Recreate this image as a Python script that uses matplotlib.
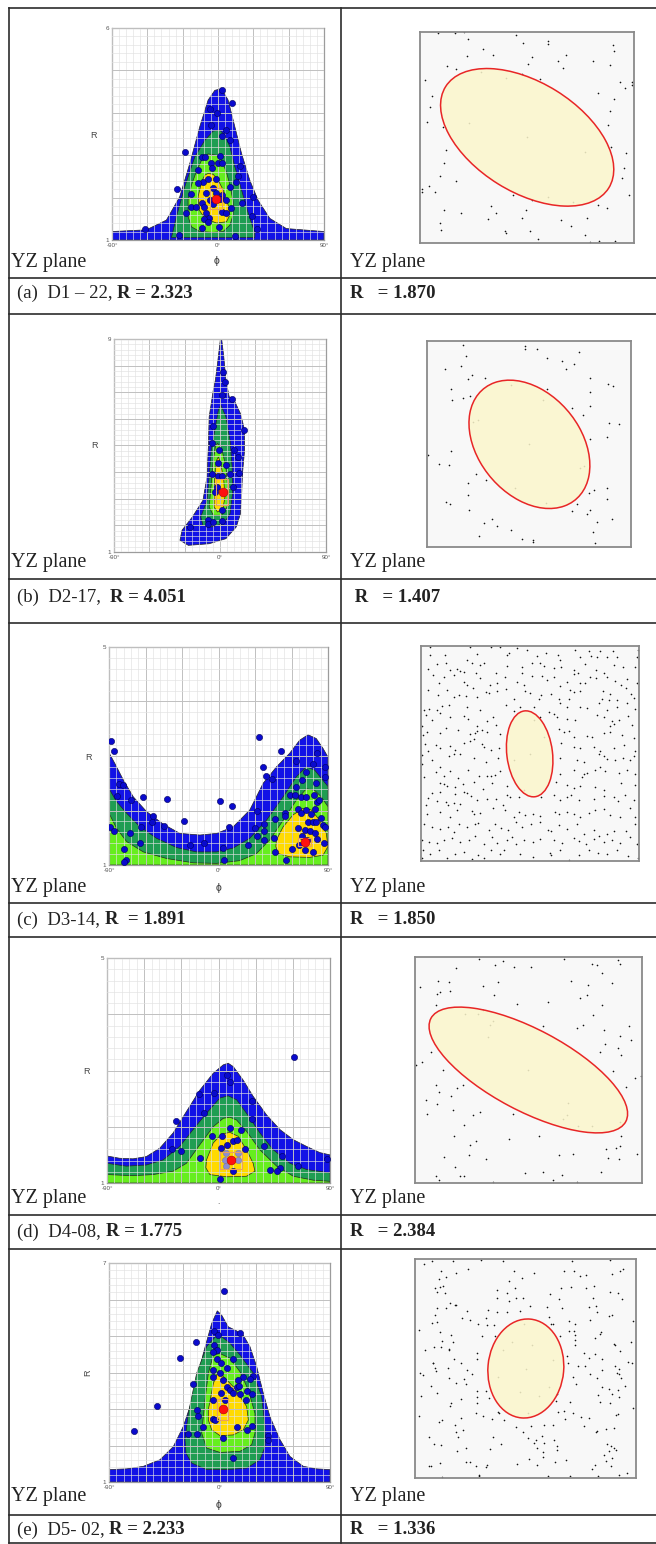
import numpy as np
import matplotlib
matplotlib.use("Agg")
import matplotlib.pyplot as plt
from matplotlib.patches import Ellipse, Rectangle
from matplotlib.lines import Line2D
from matplotlib.text import Annotation

plt.rcParams['font.family'] = ['Liberation Sans', 'DejaVu Sans']

# ---------------- Rf / phi panels (phi in degrees, R) ----------------
# contour outlines, outermost first
a_blue = [(-90, 1), (-90, 1.2), (-60.8, 1.24), (-43.8, 1.47), (-32.5, 2.02), (-24, 2.8), (-15.5, 3.67),
          (-8.4, 4.3), (-2.7, 4.53), (3, 4.57), (8.6, 4.3), (14.3, 3.67), (20, 3.04), (27, 2.41),
          (34, 1.94), (44, 1.51), (58, 1.27), (90, 1.2), (90, 1)]
a_green = [(-39.5, 1.06), (-35.3, 1.55), (-28.2, 2.26), (-19.7, 2.96), (-11.2, 3.35), (-4.1, 3.57),
           (1.6, 3.59), (5.8, 3.47), (10.1, 3.2), (14.3, 2.73), (20, 2.18), (25.7, 1.63), (31.3, 1.16),
           (31.3, 1.06)]
a_lgreen = [(-8.4, 3.03), (-1.3, 3.0), (3, 2.88), (7.2, 2.6), (10.1, 2.3), (12.9, 1.9), (12.9, 1.6),
            (10.1, 1.35), (4.4, 1.2), (-4.1, 1.18), (-15.5, 1.2), (-22.5, 1.31), (-25.4, 1.55),
            (-25.4, 1.95), (-22.5, 2.3), (-18.3, 2.62), (-14, 2.88)]
a_yellow = [(-8.4, 2.57), (-4.1, 2.55), (0.15, 2.41), (4.4, 2.18), (8.7, 1.82), (10.1, 1.59), (7.2, 1.43),
            (-1.3, 1.40), (-11.2, 1.51), (-16, 1.71), (-16.9, 2.02), (-14, 2.37), (-11.2, 2.53)]
a_points = [(3, 4.53), (11.5, 4.24), (-6.4, 4.1), (-0.7, 4.0), (-6.1, 3.71), (7.2, 3.59), (3.3, 3.45),
            (10.1, 3.37), (-28.2, 3.08), (-13.5, 2.96), (-10.9, 2.96), (1.6, 2.98), (0.1, 2.82), (3.8, 2.81),
            (18.6, 2.74), (-6.1, 2.82), (-16.6, 2.66), (-5.5, 2.69), (17.1, 2.51), (-12.6, 2.37), (-8.1, 2.43),
            (-1.3, 2.43), (15.7, 2.37), (-17.4, 2.35), (-34.7, 2.21), (-4.1, 2.23), (10.1, 2.26), (-22.8, 2.08),
            (-10.6, 2.11), (-1.8, 2.1), (3, 2.06), (-6.9, 1.94), (1.6, 1.96), (29.3, 2.02), (-4.1, 1.86),
            (7.2, 1.94), (-13.2, 1.88), (20.5, 1.88), (-22.8, 1.77), (-18.3, 1.78), (10.7, 1.75), (-26.8, 1.63),
            (-9.8, 1.63), (3, 1.67), (28.8, 1.57), (7.2, 1.63), (-7.5, 1.51), (-11.8, 1.49), (-8.4, 1.42),
            (-14, 1.29), (1, 1.31), (32.7, 1.25), (-61.7, 1.27), (-33.3, 1.12), (14.3, 1.09), (-12, 1.77)]
a_mean = (-1.8, 1.96)
a_mean_box = (-6.5, 1.72, 10, 0.5)

b_blue = [(1.4, 9), (3.2, 8.34), (5, 7.46), (7.8, 6.83), (12, 6.7), (17.4, 6.2), (20.9, 5.58), (20.9, 4.83),
          (19.1, 3.95), (18.4, 3.19), (17.4, 2.44), (13.8, 1.94), (5, 1.5), (-9.2, 1.31), (-26.9, 1.25),
          (-34, 1.44), (-32.2, 1.82), (-23.4, 2.32), (-14.5, 2.94), (-11, 3.82), (-9.9, 4.95), (-9.2, 6.08),
          (-5.7, 7.08), (-3.9, 7.46), (-2.1, 8.08), (0.35, 9)]
b_green = [(0.7, 6.52), (5, 6.08), (8.5, 5.2), (10.3, 4.2), (10.6, 3.19), (8.5, 2.44), (3.2, 2.07),
           (-7.4, 1.94), (-14.5, 2.0), (-16.3, 2.32), (-11, 2.94), (-9.2, 3.82), (-7.4, 4.82), (-3.9, 5.7),
           (-1.4, 6.33)]
b_lgreen = [(-2.1, 5.08), (1.4, 4.89), (5, 4.2), (6.7, 3.32), (6, 2.69), (1.4, 2.38), (-5.7, 2.38),
            (-9.2, 2.69), (-7.4, 3.57), (-5.7, 4.45), (-3.9, 4.95)]
b_yellow = [(-1.4, 4.57), (0.7, 4.32), (3.2, 3.7), (4.2, 3.07), (2.5, 2.63), (-2.1, 2.5), (-5, 2.69),
            (-5, 3.45), (-3.9, 4.07), (-2.8, 4.45)]
b_points = [(2.5, 7.77), (4.2, 7.4), (1.4, 6.89), (10.3, 6.73), (20.2, 5.58), (-5.7, 5.73), (-6.7, 5.08),
            (-1.1, 4.82), (12, 4.82), (14.9, 4.57), (-2.1, 4.36), (5.3, 4.26), (-6.4, 3.92), (-2.1, 3.86),
            (1.4, 3.85), (8.5, 3.92), (15.9, 3.95), (-2.8, 3.45), (-3.9, 3.26), (11.3, 3.45), (2.1, 2.59),
            (-10.3, 2.19), (-9.9, 2.07), (-5.7, 2.13), (1.4, 2.17), (-25.2, 1.94)]
b_mean = (2.5, 3.26)
b_mean_box = (-3.2, 2.76, 9.9, 1.0)

c_blue = [(-90, 1), (-90, 3.06), (-85.1, 2.86), (-78.2, 2.56), (-70, 2.25), (-59.1, 1.98), (-45.4, 1.75),
          (-31.7, 1.58), (-15.3, 1.55), (-1.6, 1.58), (12, 1.70), (25.7, 2.01), (36.7, 2.5), (47.6, 2.8),
          (58.5, 3.05), (66.7, 3.29), (73.6, 3.39), (80.4, 3.32), (85.9, 3.14), (90, 2.98), (90, 1)]
c_green = [(-90, 1), (-90, 2.40), (-83.7, 2.16), (-75.5, 1.95), (-64.6, 1.70), (-50.9, 1.49), (-34.5, 1.32),
           (-18.1, 1.24), (-1.6, 1.24), (12, 1.31), (25.7, 1.49), (39.4, 1.82), (53.1, 2.25), (64, 2.62),
           (72.2, 2.8), (79.1, 2.74), (84.5, 2.59), (90, 2.44), (90, 1)]
c_lgreen = [(-90, 1), (-90, 1.95), (-83.7, 1.67), (-75.5, 1.43), (-61.8, 1.24), (-42.7, 1.12), (-20.8, 1.04),
            (-1.6, 1.03), (17.5, 1.08), (31.2, 1.21), (42.1, 1.46), (53.1, 1.82), (64, 2.19), (72.2, 2.40),
            (79.1, 2.37), (84.5, 2.25), (90, 2.07), (90, 1)]
c_yellow = [(47.6, 1.46), (53.1, 1.70), (61.3, 1.92), (69.5, 2.04), (76.3, 2.01), (83.2, 1.82), (88.6, 1.58),
            (90, 1.34), (85.9, 1.18), (75, 1.14), (58.5, 1.15), (49, 1.21), (47.1, 1.34)]
c_points = [(-88.4, 3.27), (-85.9, 3.09), (-81.5, 2.48), (-78.8, 2.47), (-83.7, 2.26), (-72.2, 2.19),
            (-62.4, 2.25), (-42.1, 2.21), (-89.2, 1.70), (-85.9, 1.63), (-72.8, 1.58), (-64.0, 1.69),
            (-54.2, 1.90), (-54.7, 1.78), (-44.9, 1.71), (-64.6, 1.41), (-77.7, 1.30), (-76.0, 1.10),
            (-77.7, 1.05), (-28.2, 1.80), (-23.5, 1.37), (-12.0, 1.41), (1.1, 2.17), (11.2, 2.08), (8.8, 1.69),
            (3.8, 1.31), (4.7, 1.10), (24.6, 1.36), (31.7, 1.99), (33.1, 3.34), (36.9, 2.79), (39.1, 2.64),
            (51.4, 3.09), (43.8, 2.58), (29.8, 1.67), (37.5, 1.75), (37.5, 1.63), (31.5, 1.53), (37.8, 1.46),
            (45.4, 1.49), (46.8, 1.84), (54.5, 1.95), (55.0, 1.90), (58.8, 2.28), (63.5, 2.44), (63.5, 2.91),
            (68.7, 2.56), (72.2, 2.70), (81.3, 3.06), (77.7, 2.86), (87.3, 2.80), (87.3, 2.62), (79.9, 2.51),
            (62.9, 2.28), (68.1, 2.25), (72.2, 2.25), (78.2, 2.29), (80.9, 2.16), (82.6, 2.19), (65.4, 2.03),
            (68.1, 1.96), (72.2, 2.01), (76.3, 1.93), (79.1, 2.02), (73.6, 1.79), (77.7, 1.79), (79.9, 1.79),
            (84.0, 1.87), (85.9, 1.73), (87.3, 1.70), (65.4, 1.68), (70.9, 1.65), (75.0, 1.63), (68.9, 1.53),
            (72.8, 1.46), (79.1, 1.58), (80.9, 1.47), (86.4, 1.40), (65.9, 1.37), (71.4, 1.27), (77.7, 1.23),
            (60.7, 1.29), (46.2, 1.23), (55.3, 1.10)]
c_mean = (70.9, 1.42)
c_mean_box = (65, 1.34, 11, 0.16)

d_blue = [(-90, 1), (-90, 1.48), (-79.8, 1.44), (-69, 1.43), (-58.2, 1.47), (-47.4, 1.62), (-36.6, 1.89),
          (-25.9, 2.27), (-15.1, 2.65), (-4.3, 2.95), (3.8, 3.10), (7.8, 3.13), (11.9, 3.07), (19.9, 2.83),
          (28, 2.54), (38.8, 2.21), (49.6, 1.95), (60.4, 1.77), (71.1, 1.65), (81.9, 1.54), (90, 1.50), (90, 1)]
d_green = [(-90, 1), (-90, 1.35), (-74.4, 1.30), (-58.2, 1.32), (-44.7, 1.41), (-31.3, 1.65), (-20.5, 1.95),
           (-9.7, 2.24), (1.1, 2.51), (7.8, 2.55), (14.6, 2.48), (22.6, 2.24), (33.4, 1.89), (44.2, 1.59),
           (57.7, 1.35), (71.1, 1.24), (90, 1.18), (90, 1)]
d_lgreen = [(-90, 1), (-90, 1.15), (-69, 1.13), (-52.8, 1.15), (-36.6, 1.21), (-25.9, 1.35), (-15.1, 1.68),
            (-4.3, 2.00), (3.8, 2.15), (9.2, 2.17), (14.6, 2.12), (22.6, 1.92), (33.4, 1.59), (46.9, 1.30),
            (60.4, 1.12), (76.5, 1.05), (90, 1.03), (90, 1)]
d_yellow = [(-9.7, 1.41), (-4.3, 1.71), (2.4, 1.87), (9.2, 1.90), (15.9, 1.83), (22.6, 1.59), (28, 1.35),
            (29.4, 1.21), (22.6, 1.12), (6.5, 1.11), (-7, 1.15), (-10.2, 1.27)]
d_points = [(60.9, 3.24), (6.5, 2.92), (9.2, 2.80), (-15.6, 2.58), (-3.5, 2.60), (26.7, 2.45), (-11.9, 2.24),
            (26.9, 2.13), (-34.5, 2.11), (9.2, 1.97), (18.1, 1.95), (-5.4, 1.83), (3.2, 1.84), (11.9, 1.74),
            (14.6, 1.76), (2.4, 1.62), (6.5, 1.68), (21.6, 1.60), (36.6, 1.65), (-37.7, 1.60), (-29.9, 1.57),
            (-15.1, 1.44), (50.9, 1.48), (64.4, 1.30), (49.6, 1.27), (46.9, 1.21), (41.5, 1.24), (11.9, 1.22),
            (1.6, 1.07), (87.8, 1.43)]
d_pale = [(5.9, 1.54), (15.9, 1.54), (5.1, 1.41), (15.9, 1.41), (5.9, 1.31)]
d_mean = (9.7, 1.41)
d_mean_box = (1.1, 1.25, 17.5, 0.31)

e_blue = [(-90, 1), (-90, 1.34), (-75.6, 1.36), (-62, 1.43), (-48.5, 1.61), (-37.6, 1.97), (-29.5, 2.52),
          (-21.3, 3.34), (-13.2, 4.52), (-6.4, 5.34), (-1.8, 5.69), (1.8, 5.57), (7.2, 5.25), (14, 5.14),
          (19.4, 5.02), (24.8, 4.71), (30.3, 4.16), (35.7, 3.43), (41.1, 2.79), (49.3, 2.16), (57.4, 1.70),
          (68.3, 1.43), (79.1, 1.36), (90, 1.34), (90, 1)]
e_green = [(-28.1, 2.16), (-25.4, 2.88), (-18.6, 3.98), (-10.5, 4.71), (-2.3, 5.02), (1.8, 4.98), (8.6, 4.8),
           (16.7, 4.48), (27.6, 3.98), (34.3, 3.34), (37.1, 2.52), (37.1, 1.97), (33, 1.61), (22.1, 1.38),
           (5.8, 1.34), (-10.5, 1.34), (-22.7, 1.52), (-27.3, 1.79)]
e_lgreen = [(-14.5, 2.34), (-11.8, 3.25), (-9.1, 3.98), (-5, 4.48), (0.4, 4.52), (8.6, 4.39), (16.7, 4.02),
            (23.5, 3.52), (28.9, 2.88), (28.9, 2.34), (26.2, 2.02), (16.7, 1.84), (0.4, 1.81), (-10.5, 1.93)]
e_yellow = [(-9.1, 2.98), (-5, 3.70), (-0.9, 4.05), (3.1, 3.89), (11.3, 3.61), (16.7, 3.34), (22.1, 3.07),
            (23.5, 2.70), (19.4, 2.43), (11.3, 2.29), (0.4, 2.27), (-6.4, 2.43), (-9.1, 2.70)]
e_points = [(3.7, 6.23), (-69.6, 2.40), (-50.6, 3.09), (-32.2, 4.39), (-19.1, 4.84), (-4.5, 5.14), (17.0, 5.07),
            (-0.95, 5.02), (-4.5, 4.75), (-2.3, 4.61), (-5.6, 4.57), (-1.8, 4.36), (0.9, 4.27), (11.3, 4.36),
            (5.8, 4.12), (-5, 4.07), (0.4, 3.98), (18.9, 3.89), (27.6, 3.90), (24.8, 3.81), (-21.3, 3.69),
            (-5, 3.89), (3.1, 3.80), (6.4, 3.61), (14.5, 3.61), (16.2, 3.63), (8.6, 3.52), (10.7, 3.43),
            (16.7, 3.41), (22.1, 3.48), (26.2, 3.41), (0.9, 3.43), (-5, 3.25), (4.8, 3.25), (21.3, 3.25),
            (-18.1, 2.98), (-17.5, 2.81), (-5, 2.73), (-3.9, 2.70), (-13.2, 2.50), (-25.7, 2.31), (-18.1, 2.31),
            (14.0, 2.50), (22.1, 2.43), (26.2, 2.54), (2.6, 2.21), (11.3, 1.67), (39.8, 2.27), (39.8, 2.16),
            (15.3, 3.80)]
e_mean = (3.1, 2.99)
e_mean_box = (-2.3, 2.70, 9.5, 0.57)

r_top = [6, 9, 5, 5, 7]

# ---------------- strain-free sample frames (dot positions, frame units, y down) ----------------
a_frame = (240, 881, 95, 730)
a_ellipse = ((561, 412), 576, 330, 32)
a_dots = [(295, 97), (346, 99), (372, 96), (385, 116), (527, 103), (550, 129), (623, 123), (624, 130), (818, 133),
          (820, 153), (430, 146), (458, 163), (381, 168), (575, 169), (676, 165), (653, 183), (757, 183),
          (562, 191), (668, 204), (808, 194), (320, 198), (348, 207), (545, 222), (600, 235), (256, 238),
          (838, 246), (855, 265), (875, 246), (875, 255), (773, 279), (275, 288), (820, 296), (270, 320),
          (808, 333), (262, 365), (803, 374), (308, 382), (812, 440), (858, 460), (317, 450), (313, 490),
          (850, 503), (846, 535), (300, 528), (266, 557), (348, 544), (245, 568), (245, 576), (284, 577),
          (865, 585), (520, 587), (575, 602), (772, 617), (800, 625), (453, 620), (313, 630), (362, 639),
          (467, 639), (558, 632), (545, 654), (445, 659), (662, 660), (740, 656), (692, 678), (300, 670),
          (302, 690), (495, 693), (497, 700), (570, 695), (593, 719), (735, 707), (750, 728), (775, 725),
          (825, 725), (423, 216), (497, 232), (388, 368), (561, 412), (733, 456), (624, 591), (697, 606)]

b_frame = (1020, 1508, 122, 740)
b_ellipse = ((1265, 432), 406, 259, 65.7)
b_dots = [(1105, 133), (1255, 138), (1255, 145), (1282, 145), (1383, 154), (1113, 167), (1308, 172), (1343, 183),
          (1372, 192), (1102, 197), (1063, 207), (1353, 205), (1127, 225), (1118, 235), (1158, 233), (1410, 232),
          (1452, 251), (1464, 256), (1078, 267), (1308, 265), (1410, 275), (1107, 292), (1123, 288), (1080, 300),
          (1410, 316), (1367, 323), (1392, 343), (1455, 368), (1480, 370), (1450, 410), (1410, 417), (1022, 463),
          (1078, 452), (1048, 492), (1073, 495), (1138, 520), (1161, 540), (1118, 548), (1117, 585), (1420, 570),
          (1407, 577), (1450, 563), (1450, 595), (1065, 605), (1075, 612), (1120, 630), (1378, 610), (1368, 632),
          (1410, 628), (1403, 640), (1463, 656), (1427, 665), (1157, 668), (1175, 657), (1187, 678), (1220, 690),
          (1416, 695), (1145, 708), (1248, 716), (1274, 718), (1274, 724), (1422, 728), (1222, 253), (1298, 300),
          (1143, 358), (1131, 365), (1265, 431), (1395, 497), (1385, 503), (1231, 564), (1305, 608)]

c_frame = (242, 896, 78, 722)
c_ellipse = ((568, 401), 259, 137, 83)
c_dots = [(270, 82), (388, 80), (452, 80), (478, 82), (530, 84), (560, 90), (617, 100), (653, 104), (705, 90),
          (745, 92), (780, 92), (818, 92), (892, 90), (268, 105), (315, 105), (380, 120), (410, 102), (500, 106),
          (505, 100), (590, 108), (660, 120), (720, 112), (752, 108), (770, 110), (800, 110), (890, 110),
          (830, 112), (264, 148), (290, 132), (318, 130), (330, 150), (350, 148), (360, 152), (370, 155),
          (395, 128), (420, 135), (430, 130), (500, 138), (545, 140), (575, 128), (600, 128), (610, 138),
          (640, 145), (663, 140), (700, 150), (735, 132), (766, 150), (790, 158), (820, 135), (848, 142),
          (885, 140), (277, 165), (310, 170), (340, 165), (408, 158), (420, 175), (468, 158), (495, 170),
          (545, 160), (575, 168), (605, 168), (620, 180), (640, 170), (680, 185), (700, 162), (712, 160),
          (720, 188), (750, 170), (768, 175), (800, 170), (825, 182), (860, 178), (890, 190), (295, 190),
          (370, 185), (380, 195), (450, 195), (470, 190), (530, 185), (552, 195), (660, 198), (735, 190),
          (842, 195), (262, 210), (320, 210), (340, 230), (355, 225), (398, 205), (410, 230), (437, 215),
          (445, 220), (470, 212), (498, 208), (553, 212), (568, 220), (603, 226), (633, 222), (690, 210),
          (700, 215), (720, 212), (788, 212), (810, 222), (856, 205), (872, 222), (292, 225), (378, 228),
          (520, 238), (595, 238), (655, 238), (685, 238), (785, 238), (806, 240), (830, 240), (880, 235),
          (250, 270), (265, 268), (290, 270), (305, 258), (325, 255), (380, 262), (420, 270), (497, 255),
          (520, 272), (540, 262), (580, 262), (625, 275), (660, 250), (680, 262), (720, 262), (740, 265),
          (775, 250), (800, 270), (830, 262), (860, 250), (885, 268), (258, 285), (275, 300), (300, 280),
          (330, 290), (372, 288), (383, 298), (440, 302), (458, 290), (598, 292), (640, 282), (650, 292),
          (680, 298), (705, 300), (770, 285), (790, 290), (815, 302), (835, 300), (862, 288), (875, 315),
          (246, 318), (318, 325), (410, 318), (468, 315), (808, 318), (822, 312), (260, 335), (300, 340),
          (352, 330), (388, 342), (405, 338), (410, 332), (425, 330), (440, 335), (480, 342), (655, 328),
          (670, 335), (685, 332), (700, 350), (740, 348), (755, 350), (790, 340), (808, 335), (845, 345),
          (880, 355), (248, 345), (255, 372), (288, 375), (300, 385), (330, 378), (345, 390), (370, 368),
          (390, 362), (402, 358), (426, 372), (432, 380), (452, 390), (475, 385), (662, 368), (700, 380),
          (720, 385), (760, 382), (780, 392), (820, 385), (852, 375), (883, 392), (246, 405), (262, 392),
          (275, 420), (326, 408), (340, 400), (360, 400), (402, 412), (438, 425), (472, 412), (660, 412),
          (710, 420), (730, 425), (775, 402), (790, 408), (800, 415), (825, 418), (848, 412), (870, 420),
          (882, 408), (245, 432), (300, 440), (288, 455), (330, 452), (382, 450), (415, 468), (440, 468),
          (452, 468), (465, 465), (480, 452), (660, 460), (700, 450), (725, 470), (730, 462), (740, 458),
          (765, 450), (780, 440), (795, 452), (835, 458), (860, 450), (885, 462), (252, 470), (310, 468),
          (352, 472), (300, 488), (312, 490), (320, 498), (345, 500), (368, 492), (402, 485), (428, 505),
          (455, 488), (500, 498), (648, 485), (680, 495), (700, 502), (720, 498), (765, 500), (790, 510),
          (842, 488), (885, 495), (275, 518), (298, 515), (345, 520), (372, 515), (380, 518), (258, 555),
          (290, 542), (318, 545), (322, 555), (342, 548), (360, 552), (392, 528), (410, 540), (440, 535),
          (468, 535), (500, 525), (510, 530), (535, 530), (602, 530), (640, 525), (660, 540), (680, 530),
          (692, 525), (715, 540), (760, 535), (790, 528), (820, 530), (832, 542), (855, 525), (880, 540),
          (264, 532), (260, 580), (300, 575), (330, 590), (350, 568), (395, 572), (402, 580), (420, 578),
          (458, 562), (488, 555), (495, 568), (520, 590), (535, 575), (555, 585), (578, 580), (600, 588),
          (645, 575), (655, 580), (680, 575), (700, 580), (720, 590), (745, 578), (765, 568), (790, 565),
          (810, 585), (838, 590), (870, 562), (885, 590), (250, 612), (275, 620), (300, 625), (322, 620),
          (340, 635), (355, 612), (380, 620), (405, 612), (412, 608), (445, 628), (465, 610), (482, 622),
          (503, 630), (528, 605), (545, 620), (572, 612), (600, 605), (623, 628), (632, 632), (655, 615),
          (680, 625), (710, 612), (730, 640), (760, 630), (775, 648), (800, 640), (822, 632), (858, 632),
          (885, 612), (245, 660), (265, 665), (290, 668), (310, 660), (335, 652), (360, 665), (385, 660),
          (405, 648), (430, 672), (455, 650), (470, 668), (500, 660), (515, 650), (528, 672), (550, 660),
          (578, 665), (600, 655), (640, 660), (665, 668), (700, 652), (715, 662), (738, 672), (760, 655),
          (790, 665), (815, 660), (840, 668), (870, 650), (890, 672), (248, 688), (268, 700), (295, 690),
          (320, 712), (345, 700), (370, 695), (395, 715), (412, 705), (432, 712), (452, 690), (478, 702),
          (492, 690), (540, 700), (578, 710), (628, 698), (632, 704), (660, 690), (685, 718), (715, 705),
          (745, 690), (772, 698), (800, 700), (830, 690), (862, 708), (892, 712), (245, 712), (568, 400),
          (552, 508), (580, 300), (612, 350), (520, 420)]

d_frame = (226, 905, 82, 760)
d_ellipse = ((565, 421), 660, 244, 28)
d_dots = [(418, 87), (465, 107), (489, 93), (521, 112), (573, 112), (672, 87), (756, 103), (770, 105), (832, 90),
          (838, 103), (348, 115), (784, 130), (240, 171), (295, 155), (327, 157), (302, 186), (331, 184),
          (291, 193), (430, 168), (473, 158), (462, 195), (693, 154), (743, 166), (816, 160), (740, 197),
          (720, 206), (623, 216), (530, 222), (288, 225), (786, 225), (757, 257), (710, 294), (728, 287),
          (790, 300), (865, 288), (838, 318), (873, 330), (794, 342), (833, 355), (779, 368), (841, 376),
          (248, 398), (228, 405), (274, 368), (310, 420), (883, 445), (903, 438), (818, 423), (856, 473),
          (288, 467), (297, 487), (351, 475), (334, 500), (370, 465), (258, 512), (263, 552), (291, 524),
          (340, 541), (400, 555), (420, 547), (372, 587), (344, 619), (390, 647), (409, 635), (508, 627),
          (598, 620), (388, 676), (437, 689), (314, 683), (346, 712), (360, 738), (372, 740), (290, 740),
          (297, 752), (458, 757), (556, 730), (608, 728), (640, 750), (665, 735), (712, 756), (781, 728),
          (656, 676), (700, 674), (798, 659), (840, 648), (828, 656), (835, 689), (803, 686), (889, 672),
          (842, 618), (518, 552), (610, 290), (375, 252), (414, 254), (428, 240), (460, 274), (451, 285),
          (444, 322), (564, 420), (685, 521), (680, 556), (670, 568), (715, 588), (755, 590), (838, 578)]

e_frame = (225, 887, 42, 700)
e_ellipse = ((557, 371), 227, 298, 5)
e_dots = [(253, 57), (276, 47), (340, 47), (422, 45), (488, 47), (695, 48), (808, 44), (302, 77), (347, 83),
          (385, 72), (523, 78), (581, 84), (672, 78), (702, 77), (720, 92), (736, 90), (816, 87), (838, 77),
          (848, 73), (296, 101), (318, 97), (545, 100), (506, 107), (470, 135), (500, 144), (524, 129),
          (661, 129), (692, 126), (737, 130), (761, 123), (285, 128), (300, 127), (308, 122), (292, 140),
          (315, 145), (630, 146), (810, 141), (833, 145), (470, 158), (528, 158), (550, 160), (507, 167),
          (655, 162), (757, 160), (845, 163), (330, 173), (345, 181), (348, 180), (568, 182), (620, 187),
          (666, 190), (745, 186), (768, 182), (292, 190), (317, 190), (381, 198), (444, 195), (472, 201),
          (500, 200), (540, 197), (771, 201), (286, 210), (365, 218), (390, 225), (437, 220), (626, 217),
          (805, 214), (815, 210), (748, 224), (277, 233), (290, 232), (415, 236), (441, 241), (461, 240),
          (632, 238), (637, 236), (686, 228), (703, 237), (878, 228), (237, 254), (300, 260), (466, 273),
          (702, 257), (686, 257), (779, 266), (782, 260), (333, 270), (427, 272), (659, 272), (703, 271),
          (703, 286), (765, 280), (873, 290), (306, 288), (340, 292), (283, 307), (328, 313), (326, 315),
          (704, 300), (822, 298), (825, 300), (256, 316), (304, 305), (410, 323), (732, 323), (765, 327),
          (840, 319), (343, 342), (411, 342), (681, 333), (745, 340), (786, 342), (278, 354), (280, 355),
          (286, 370), (364, 354), (380, 376), (682, 353), (734, 362), (823, 364), (863, 351), (875, 354),
          (240, 385), (248, 390), (288, 380), (325, 369), (396, 388), (713, 363), (748, 388), (784, 375),
          (830, 385), (835, 388), (835, 374), (327, 401), (348, 414), (371, 403), (379, 419), (697, 396),
          (707, 418), (771, 400), (843, 399), (272, 423), (292, 444), (786, 428), (807, 434), (832, 436),
          (855, 425), (242, 453), (411, 440), (411, 457), (437, 438), (651, 447), (774, 451), (814, 447),
          (836, 458), (334, 474), (331, 485), (363, 464), (410, 476), (446, 460), (688, 471), (648, 469),
          (778, 472), (808, 476), (877, 489), (408, 504), (430, 514), (473, 502), (476, 505), (455, 522),
          (652, 502), (672, 500), (697, 505), (826, 511), (834, 509), (236, 514), (298, 532), (305, 527),
          (363, 520), (491, 527), (675, 522), (723, 518), (747, 520), (345, 541), (368, 555), (349, 562),
          (528, 548), (573, 545), (611, 541), (637, 541), (731, 545), (766, 562), (797, 552), (821, 549),
          (267, 578), (354, 578), (459, 578), (549, 563), (563, 580), (588, 585), (606, 574), (641, 585),
          (770, 560), (281, 599), (302, 601), (378, 611), (450, 612), (483, 597), (581, 594), (612, 596),
          (649, 603), (651, 617), (799, 598), (812, 604), (821, 610), (828, 615), (805, 618), (791, 630),
          (816, 640), (797, 648), (352, 619), (591, 611), (607, 623), (608, 637), (566, 642), (268, 665),
          (273, 663), (299, 655), (378, 652), (391, 651), (409, 664), (440, 660), (437, 667), (530, 658),
          (590, 662), (645, 651), (678, 647), (765, 660), (811, 663), (756, 672), (418, 691), (416, 693),
          (305, 697), (624, 693), (690, 695), (772, 694), (837, 692), (860, 685), (551, 237), (517, 290),
          (574, 300), (488, 316), (639, 346), (556, 371), (473, 396), (626, 427), (540, 441), (597, 453),
          (562, 505)]

left_captions = [('(a)  D1 \u2013 22, ', 'R = 2.323'), ('(b)  D2-17,  ', 'R = 4.051'),
                 ('(c)  D3-14, ', 'R  = 1.891'), ('(d)  D4-08, ', 'R = 1.775'),
                 ('(e)  D5- 02, ', 'R = 2.233')]
right_captions = ['R   = 1.870', ' R   = 1.407', 'R   = 1.850', 'R   = 2.384', 'R   = 1.336']

LEVEL_COLOURS = ['#1212e6', '#1f9d52', '#66ee1e', '#ffda00']
SERIF = 'Liberation Serif'

W, H = 656, 1544
fig = plt.figure(figsize=(W / 100, H / 100), dpi=100)


def rect(x0, y0, x1, y1):
    # page pixel box -> figure fraction rect
    return [x0 / W, 1 - y1 / H, (x1 - x0) / W, (y1 - y0) / H]


def fx(x):
    return x / W


def fy(y):
    return 1 - y / H


def rf_phi_panel(box, top, levels, pts, mean, mean_box, pale=()):
    ax = fig.add_axes(rect(*box))
    for outline, colour in zip(levels, LEVEL_COLOURS):
        xs, ys = zip(*outline)
        ax.fill(xs, ys, fc=colour, ec='#262626', lw=0.5, zorder=1)
    ax.set_xlim(-90, 90)
    ax.set_ylim(1, top)
    ax.set_xticks(np.arange(-90, 91, 30))
    ax.set_xticklabels(['-90°', '', '', '0°', '', '', '90°'])
    ax.set_xticks(np.arange(-90, 91, 6), minor=True)
    ax.set_yticks(np.arange(1, top + 1))
    ax.set_yticklabels([str(v) if v in (1, top) else '' for v in range(1, top + 1)])
    ax.set_yticks(np.arange(1, top, 0.2), minor=True)
    ax.tick_params(which='both', length=0, labelsize=4.5, labelcolor='#555555', pad=2)
    ax.grid(which='minor', color='#e2e2e2', lw=0.45)
    ax.grid(which='major', color='#c0c0c0', lw=0.7)
    ax.set_axisbelow(False)
    for sp in ax.spines.values():
        sp.set_color('#9c9c9c')
        sp.set_linewidth(0.9)
    xs, ys = zip(*pts)
    ax.scatter(xs, ys, s=20, c='#0a0acc', edgecolors='#00005c', linewidths=0.4, zorder=4)
    if pale:
        xs, ys = zip(*pale)
        ax.scatter(xs, ys, s=20, c='#8c8cd2', edgecolors='#6a6ab0', linewidths=0.3, zorder=4)
    bx, by, bw, bh = mean_box
    ax.add_patch(Rectangle((bx, by), bw, bh, fill=False, ec='#eaa060', lw=0.8, zorder=5))
    ax.scatter([mean[0]], [mean[1]], s=40, c='#ff1010', edgecolors='#b00000', linewidths=0.4, zorder=6)
    return ax


def strain_panel(box, frame, dots, ellipse):
    ax = fig.add_axes(rect(*box))
    ax.set_facecolor('#f8f8f8')
    xs, ys = zip(*dots)
    ax.scatter(xs, ys, s=1.4, c='#111111', linewidths=0, zorder=2)
    (cx, cy), w, h, ang = ellipse
    ax.add_patch(Ellipse((cx, cy), w, h, angle=ang, fc=(0.985, 0.965, 0.80, 0.86),
                         ec='#e82626', lw=1.1, zorder=3))
    ax.set_xlim(frame[0], frame[1])
    ax.set_ylim(frame[3], frame[2])
    ax.set_xticks([])
    ax.set_yticks([])
    for sp in ax.spines.values():
        sp.set_color('#8a8a8a')
        sp.set_linewidth(1.3)
    return ax


left_boxes = [(112, 28, 324, 240), (114, 339, 326, 552), (109, 647, 328, 865),
              (107, 958, 330, 1183), (109, 1263, 330, 1482)]
right_boxes = [(420, 32, 634, 243), (427, 341, 631, 547), (421, 646, 639, 861),
               (415, 957, 642, 1183), (415, 1259, 636, 1478)]

rf_phi_panel(left_boxes[0], r_top[0], [a_blue, a_green, a_lgreen, a_yellow], a_points, a_mean, a_mean_box)
rf_phi_panel(left_boxes[1], r_top[1], [b_blue, b_green, b_lgreen, b_yellow], b_points, b_mean, b_mean_box)
rf_phi_panel(left_boxes[2], r_top[2], [c_blue, c_green, c_lgreen, c_yellow], c_points, c_mean, c_mean_box)
rf_phi_panel(left_boxes[3], r_top[3], [d_blue, d_green, d_lgreen, d_yellow], d_points, d_mean, d_mean_box,
             pale=d_pale)
rf_phi_panel(left_boxes[4], r_top[4], [e_blue, e_green, e_lgreen, e_yellow], e_points, e_mean, e_mean_box)

strain_panel(right_boxes[0], a_frame, a_dots, a_ellipse)
strain_panel(right_boxes[1], b_frame, b_dots, b_ellipse)
strain_panel(right_boxes[2], c_frame, c_dots, c_ellipse)
strain_panel(right_boxes[3], d_frame, d_dots, d_ellipse)
strain_panel(right_boxes[4], e_frame, e_dots, e_ellipse)

# axis titles of the Rf/phi diagrams
for (x, y), rot in zip([(94, 136), (95, 446), (88, 757), (87, 1072), (88, 1373)], [0, 0, 0, 0, 90]):
    fig.text(fx(x), fy(y), 'R', fontsize=6.5, color='#444444', ha='center', va='center', rotation=rot)
for x, y in [(217, 261), (218, 888), (219, 1505)]:
    fig.text(fx(x), fy(y), '\u03d5', fontsize=7.5, color='#333333', ha='center', va='center')
fig.text(fx(218), fy(1202), '.', fontsize=6, color='#444444', ha='center', va='center')

# table rules
for y in [8, 278, 314, 579, 623, 903, 937, 1215, 1249, 1515, 1543]:
    fig.add_artist(Line2D([fx(9), 1], [fy(y), fy(y)], color='#2c2c2c', lw=1.2))
for x in [9, 341]:
    fig.add_artist(Line2D([fx(x), fx(x)], [fy(8), fy(1543)], color='#2c2c2c', lw=1.2))

# cell texts
for y in [262, 563, 887, 1198, 1497]:
    fig.text(fx(11), fy(y), 'YZ plane', fontsize=14.5, family=SERIF, color='#222222', va='center')
    fig.text(fx(350), fy(y), 'YZ plane', fontsize=14.5, family=SERIF, color='#222222', va='center')

cap_y = [293, 597, 920, 1232, 1530]
for y, (plain, bold) in zip(cap_y, left_captions):
    t = fig.text(fx(17), fy(y), plain, fontsize=13.5, family=SERIF, color='#222222', va='center')
    fig.add_artist(Annotation(bold, xy=(1, 0.5), xycoords=t, va='center', ha='left', fontsize=13.5,
                              family=SERIF, fontweight='bold', color='#222222'))
for y, bold in zip(cap_y, right_captions):
    fig.text(fx(350), fy(y), bold, fontsize=13.5, family=SERIF, fontweight='bold', color='#222222',
             va='center')

fig.savefig('out.png', dpi=100)
